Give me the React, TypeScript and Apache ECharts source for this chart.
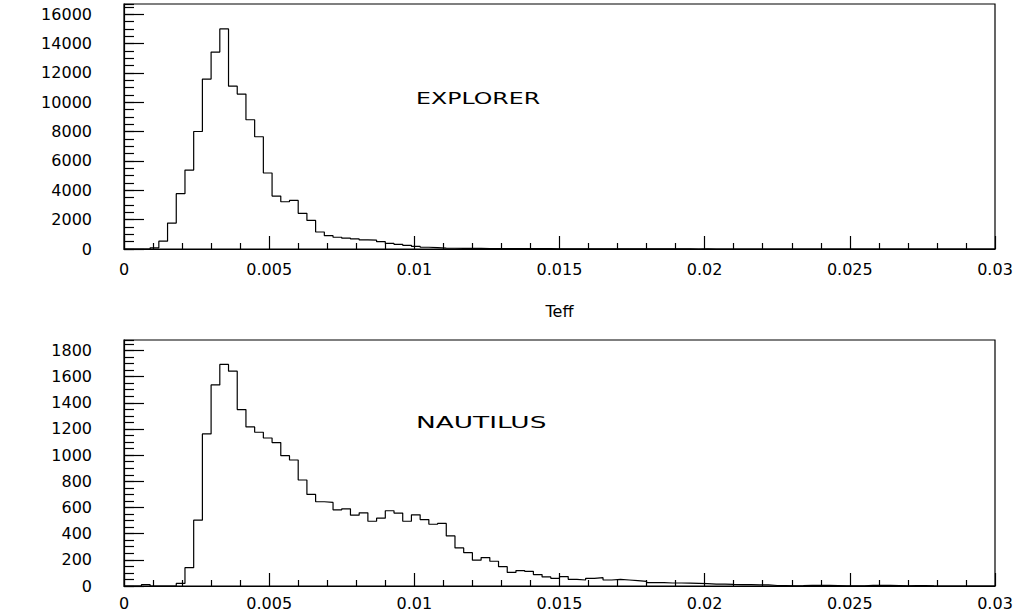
import React, { useEffect, useRef } from "react";
import * as echarts from "echarts";

// Histogram binning (100 bins over 0 .. 0.03)
const BIN_WIDTH = 0.0003;
const X_MIN = 0;
const X_MAX = 0.03;
const X_INTERVAL = 0.005;

// Bin contents, EXPLORER
const explorerCounts = [
  0, 0, 0, 80, 530, 1770, 3770, 5380, 8010, 11580,
  13420, 15000, 11100, 10560, 8810, 7650, 5180, 3610, 3220, 3310,
  2430, 1950, 1160, 910, 800, 740, 690, 620, 600, 500,
  380, 320, 250, 180, 120, 100, 60, 50, 40, 40,
  40, 30, 30, 20, 20, 30, 20, 30, 30, 10,
  10, 10, 5, 10, 5, 5, 10, 5, 5, 5,
  3, 2, 2, 2, 2, 0, 2, 0, 0, 0,
  0, 0, 0, 0, 0, 0, 0, 0, 0, 0,
  0, 0, 0, 0, 0, 0, 0, 0, 0, 0,
  0, 0, 0, 0, 0, 0, 0, 0, 0, 0,
];

// Bin contents, NAUTILUS
const nautilusCounts = [
  0, 0, 10, 0, 0, 0, 20, 140, 503, 1162,
  1537, 1693, 1642, 1348, 1216, 1175, 1131, 1096, 996, 963,
  810, 700, 644, 639, 582, 590, 541, 559, 495, 518,
  575, 557, 495, 544, 508, 472, 478, 383, 291, 255,
  197, 217, 189, 148, 104, 118, 112, 87, 69, 59,
  72, 51, 46, 59, 64, 46, 51, 46, 41, 36,
  26, 26, 23, 23, 22, 20, 18, 15, 15, 12,
  10, 10, 9, 8, 4, 3, 2, 3, 5, 5,
  5, 4, 2, 2, 2, 5, 5, 5, 4, 2,
  3, 3, 1, 0, 0, 0, 0, 0, 0, 0,
];

const panelTitles = ["EXPLORER", "NAUTILUS"];
const xAxisTitle = "Teff";
const yMaxes = [16700, 1880];
const yIntervals = [2000, 200];
const yMinorDivisions = 4;
const xMinorDivisions = 5;

const FONT = "DejaVu Sans";

function toSteps(counts: number[]): number[][] {
  const pts = counts.map((v, i) => [Number((X_MIN + i * BIN_WIDTH).toFixed(6)), v]);
  pts.push([X_MAX, counts[counts.length - 1]]);
  return pts;
}

export default function App() {
  const ref = useRef<HTMLDivElement>(null);

  useEffect(() => {
    document.body.style.margin = "0";
    if (!ref.current) return;
    const chart = echarts.init(ref.current, null, { renderer: "svg" });

    const grids = [
      { left: 124, top: 4, width: 871, height: 245 },
      { left: 124, top: 340, width: 871, height: 246 },
    ];

    const xAxes = [0, 1].map((g) => ({
      type: "value",
      gridIndex: g,
      min: X_MIN,
      max: X_MAX,
      interval: X_INTERVAL,
      name: g === 0 ? xAxisTitle : "",
      nameLocation: "middle",
      nameGap: 54,
      nameTextStyle: { fontFamily: FONT, fontSize: 16, color: "#000" },
      axisLine: { show: true, lineStyle: { color: "#000", width: 1.2 } },
      axisTick: { show: true, inside: true, length: 13, lineStyle: { color: "#000", width: 1.2 } },
      minorTick: { show: true, splitNumber: xMinorDivisions, length: 6, lineStyle: { color: "#000", width: 1.2 } },
      axisLabel: {
        show: true,
        margin: g === 0 ? 12 : 9,
        fontFamily: FONT,
        fontSize: 16,
        color: "#000",
        formatter: (v: number) => String(Number(v.toFixed(6))),
      },
      splitLine: { show: false },
      minorSplitLine: { show: false },
    }));

    const yAxes: any[] = [];
    [0, 1].forEach((g) => {
      yAxes.push({
        type: "value",
        gridIndex: g,
        position: "left",
        min: 0,
        max: yMaxes[g],
        interval: yIntervals[g],
        axisLine: { show: true, lineStyle: { color: "#000", width: 1.2 } },
        axisTick: { show: true, inside: true, length: 20, lineStyle: { color: "#000", width: 1.2 } },
        axisLabel: {
          show: true,
          margin: 32,
          showMaxLabel: false,
          fontFamily: FONT,
          fontSize: 16,
          color: "#000",
          formatter: (v: number) => String(v),
        },
        splitLine: { show: false },
      });
      yAxes.push({
        type: "value",
        gridIndex: g,
        position: "left",
        min: 0,
        max: yMaxes[g],
        interval: yIntervals[g] / yMinorDivisions,
        axisLine: { show: false },
        axisTick: { show: true, inside: true, length: 10, lineStyle: { color: "#000", width: 1.2 } },
        axisLabel: { show: false },
        splitLine: { show: false },
      });
    });

    const option = {
      animation: false,
      backgroundColor: "#fff",
      grid: grids.map((gr) => ({
        ...gr,
        show: true,
        borderColor: "#000",
        borderWidth: 1.2,
        backgroundColor: "transparent",
        containLabel: false,
      })),
      xAxis: xAxes,
      yAxis: yAxes,
      series: [
        {
          type: "line",
          xAxisIndex: 0,
          yAxisIndex: 0,
          step: "end",
          symbol: "none",
          data: toSteps(explorerCounts),
          lineStyle: { color: "#000", width: 1.2 },
        },
        {
          type: "line",
          xAxisIndex: 1,
          yAxisIndex: 2,
          step: "end",
          symbol: "none",
          data: toSteps(nautilusCounts),
          lineStyle: { color: "#000", width: 1.2 },
        },
      ],
      graphic: [
        {
          type: "text",
          x: 416,
          y: 98,
          scaleX: 1.48,
          style: {
            text: panelTitles[0],
            font: `16px "${FONT}"`,
            fill: "#000",
            verticalAlign: "middle",
            align: "left",
          },
        },
        {
          type: "text",
          x: 416,
          y: 423,
          scaleX: 1.65,
          style: {
            text: panelTitles[1],
            font: `16px "${FONT}"`,
            fill: "#000",
            verticalAlign: "middle",
            align: "left",
          },
        },
      ],
    };

    chart.setOption(option as any);
    return () => chart.dispose();
  }, []);

  return <div ref={ref} style={{ width: 1029, height: 614 }} />;
}
